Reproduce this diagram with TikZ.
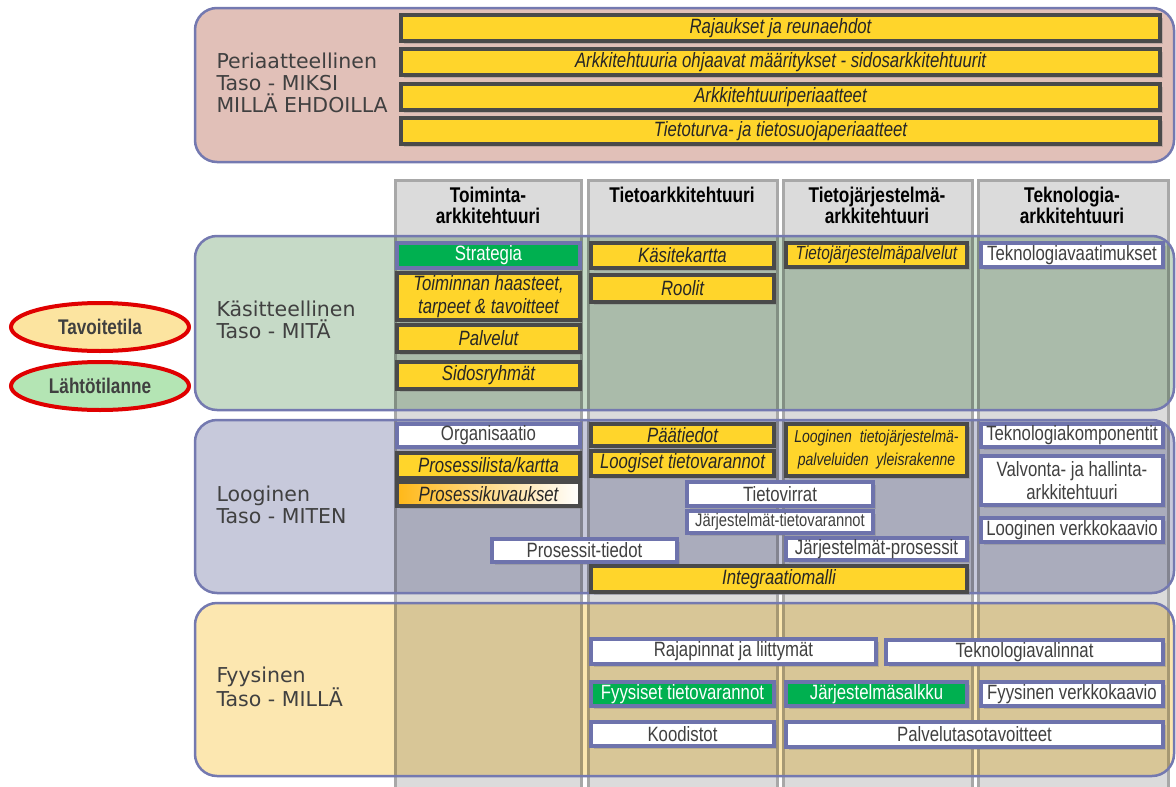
\documentclass[tikz,border=0pt]{standalone}
\usepackage{fontspec}
\setmainfont{Liberation Sans}
\newfontfamily\narrowfont[FakeStretch=0.81]{Liberation Sans}
\newfontfamily\layerfont{DejaVu Sans}
\usetikzlibrary{shadows,shapes.geometric}

\definecolor{bandpink}{HTML}{E1C0B8}
\definecolor{bandgreen}{HTML}{C6DAC7}
\definecolor{bandblue}{HTML}{C7C9DB}
\definecolor{bandyellow}{HTML}{FCE7B0}
\definecolor{bandedge}{HTML}{7479B0}
\definecolor{colfill}{HTML}{DBDBDB}
\definecolor{coledge}{HTML}{A8A8A8}
\definecolor{boxyellow}{HTML}{FFD52B}
\definecolor{boxdark}{HTML}{4A4A4A}
\definecolor{boxgreen}{HTML}{00B050}
\definecolor{boxblue}{HTML}{6E73AC}
\definecolor{ringred}{HTML}{E00000}
\definecolor{goalfill}{HTML}{FCE4A0}
\definecolor{startfill}{HTML}{B4E5B4}
\definecolor{layertext}{HTML}{404040}
\definecolor{boxtext}{HTML}{262626}
\definecolor{gradleft}{HTML}{FFB818}
\definecolor{gradmid}{HTML}{FFE6A8}

% a box given by its corners: name, style, x1, y1, x2, y2, text
\newcommand\cellbox[7]{%
  \node[#2, minimum width={(#5-#3)*1pt}, minimum height={(#6-#4)*1pt}]
    (#1) at ({(#3+#5)/2},{(#4+#6)/2}) {#7};}

\tikzset{
  boxshadow/.style={drop shadow={opacity=0.35, shadow xshift=2.5pt, shadow yshift=-2.5pt}},
  ybox/.style={draw=boxdark, fill=boxyellow, line width=3.5pt, inner sep=1pt,
    text=boxtext, align=center, boxshadow,
    font=\narrowfont\itshape\fontsize{20.7}{23}\selectfont},
  wbox/.style={draw=boxblue, fill=white, line width=3.5pt, inner sep=1pt,
    text=layertext, align=center, boxshadow,
    font=\narrowfont\fontsize{20.7}{23}\selectfont},
  gbox/.style={wbox, fill=boxgreen, text=white},
  smalltext/.style={font=\narrowfont\fontsize{18.2}{20}\selectfont},
  smallit/.style={font=\narrowfont\itshape\fontsize{19}{22}\selectfont},
  tinyit/.style={font=\narrowfont\itshape\fontsize{17.3}{23}\selectfont},
  colhead/.style={anchor=north, align=center, text=black,
    font=\narrowfont\bfseries\fontsize{21.3}{21}\selectfont},
  layerlabel/.style={anchor=west, align=left, text=layertext,
    font=\layerfont\fontsize{20.5}{22}\selectfont},
  band/.style={rounded corners=22pt},
  bandline/.style={draw=bandedge, line width=2.5pt, rounded corners=22pt},
  state/.style={ellipse, draw=ringred, line width=4pt, minimum width=178pt,
    minimum height=48pt, text=layertext,
    font=\narrowfont\bfseries\fontsize{21.2}{22}\selectfont},
}

\begin{document}
\begin{tikzpicture}[x=1pt,y=-1pt]
\useasboundingbox (0,0) rectangle (1176,787);
\fill[white] (0,0) rectangle (1176,787);

% the four architecture columns
\foreach \xa/\xb in {395/581, 588/777, 783/972, 978/1168}
  \draw[fill=colfill, draw=coledge, line width=3pt] (\xa,180) rectangle (\xb,795);

\node[colhead] (h1) at (488,184) {Toiminta-\\arkkitehtuuri};
\node[colhead] (h2) at (682,184) {Tietoarkkitehtuuri};
\node[colhead] (h3) at (877,184) {Tietojärjestelmä-\\arkkitehtuuri};
\node[colhead] (h4) at (1072,184) {Teknologia-\\arkkitehtuuri};

% layer bands, tinting the columns underneath
\fill[band, bandpink] (195,8) rectangle (1174,162);
\draw[bandline] (195,8) rectangle (1174,162);
\begin{scope}[blend mode=multiply]
  \fill[band, bandgreen] (195,236) rectangle (1174,410);
  \fill[band, bandblue] (195,420) rectangle (1174,593);
  \fill[band, bandyellow] (195,603) rectangle (1174,776);
\end{scope}
\draw[bandline] (195,236) rectangle (1174,410);
\draw[bandline] (195,420) rectangle (1174,593);
\draw[bandline] (195,603) rectangle (1174,776);

\node[layerlabel] (l1) at (213,83) {Periaatteellinen\\Taso - MIKSI\\MILLÄ EHDOILLA};
\node[layerlabel] (l2) at (213,320) {Käsitteellinen\\Taso - MITÄ};
\node[layerlabel] (l3) at (213,505) {Looginen\\Taso - MITEN};
\node[layerlabel] (l4) at (213,687) {Fyysinen\\Taso - MILLÄ};

% principle level
\cellbox{p1}{ybox}{401}{15}{1160}{41}{Rajaukset ja reunaehdot}
\cellbox{p2}{ybox}{401}{49}{1160}{75}{Arkkitehtuuria ohjaavat määritykset - sidosarkkitehtuurit}
\cellbox{p3}{ybox}{401}{84}{1160}{110}{Arkkitehtuuriperiaatteet}
\cellbox{p4}{ybox}{401}{118}{1160}{144}{Tietoturva- ja tietosuojaperiaatteet}

% conceptual level
\cellbox{strat}{gbox}{397}{243}{580}{268}{Strategia}
\cellbox{haast}{ybox}{397}{273}{580}{320}{Toiminnan haasteet,\\tarpeet \& tavoitteet}
\cellbox{palv}{ybox}{397}{325}{580}{352}{Palvelut}
\cellbox{sidos}{ybox}{397}{362}{580}{389}{Sidosryhmät}
\cellbox{kasite}{ybox}{591}{243}{774}{268}{Käsitekartta}
\cellbox{roolit}{ybox}{591}{275}{774}{302}{Roolit}
\cellbox{tjpalv}{ybox,smallit}{786}{243}{967}{267}{Tietojärjestelmäpalvelut}
\cellbox{tekvaat}{wbox}{981}{243}{1163}{267}{Teknologiavaatimukset}

% logical level
\cellbox{org}{wbox}{397}{424}{580}{447}{Organisaatio}
\cellbox{proslista}{ybox}{397}{453}{580}{478}{Prosessilista/kartta}
\cellbox{proskuv}{ybox,left color=gradleft, middle color=gradmid, right color=white}{397}{482}{580}{506}{Prosessikuvaukset}
\cellbox{paat}{ybox}{591}{424}{774}{446}{Päätiedot}
\cellbox{loogtv}{ybox}{591}{451}{774}{476}{Loogiset tietovarannot}
\cellbox{loogtj}{ybox,tinyit}{786}{424}{967}{476}{Looginen\ \ tietojärjestelmä-\\palveluiden\ \ yleisrakenne}
\cellbox{tekkomp}{wbox}{981}{424}{1163}{447}{Teknologiakomponentit}
\cellbox{valv}{wbox}{981}{456}{1163}{505}{Valvonta- ja hallinta-\\arkkitehtuuri}
\cellbox{loogverk}{wbox}{981}{518}{1163}{542}{Looginen verkkokaavio}
\cellbox{tietov}{wbox}{687}{482}{873}{506}{Tietovirrat}
\cellbox{jtv}{wbox,smalltext}{687}{511}{873}{533}{Järjestelmät-tietovarannot}
\cellbox{prostied}{wbox}{492}{539}{677}{562}{Prosessit-tiedot}
\cellbox{jpros}{wbox}{786}{538}{967}{560}{Järjestelmät-prosessit}
\cellbox{integr}{ybox}{591}{566}{967}{592}{Integraatiomalli}

% physical level
\cellbox{rajap}{wbox}{591}{639}{876}{664}{Rajapinnat ja liittymät}
\cellbox{tekval}{wbox}{886}{640}{1163}{664}{Teknologiavalinnat}
\cellbox{fyystv}{gbox}{591}{682}{774}{706}{Fyysiset tietovarannot}
\cellbox{jsalk}{gbox}{786}{682}{967}{706}{Järjestelmäsalkku}
\cellbox{fyysverk}{wbox}{981}{682}{1163}{706}{Fyysinen verkkokaavio}
\cellbox{kood}{wbox}{591}{722}{774}{746}{Koodistot}
\cellbox{palvtaso}{wbox}{786}{722}{1163}{747}{Palvelutasotavoitteet}

% target and starting state
\node[state, fill=goalfill] (goal) at (100,327) {Tavoitetila};
\node[state, fill=startfill] (start) at (100,386) {Lähtötilanne};
\end{tikzpicture}
\end{document}
